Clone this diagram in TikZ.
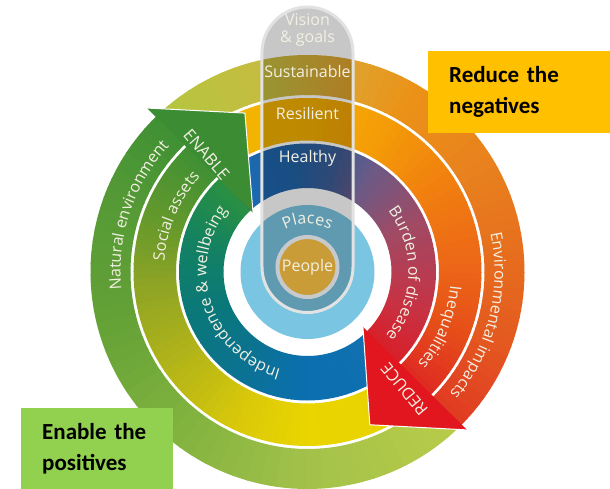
\documentclass[tikz,border=0pt]{standalone}
\usepackage{fontspec}
\setmainfont{Open Sans}
\newfontfamily\boxfont{Carlito}
\usetikzlibrary{decorations.text}

% outer band
\definecolor{oA}{HTML}{E03A22}
\definecolor{oB}{HTML}{E45820}
\definecolor{oC}{HTML}{E66A1E}
\definecolor{oD}{HTML}{E8801E}
\definecolor{oE}{HTML}{EC9218}
\definecolor{oF}{HTML}{DCA632}
\definecolor{oG}{HTML}{C8BC40}
\definecolor{oH}{HTML}{B4C640}
\definecolor{oI}{HTML}{3F9034}
\definecolor{oJ}{HTML}{559A36}
\definecolor{oK}{HTML}{62A036}
\definecolor{oL}{HTML}{80B23E}
\definecolor{oM}{HTML}{A3C14A}
\definecolor{oN}{HTML}{B8CC48}
% middle band
\definecolor{mA}{HTML}{DE2A22}
\definecolor{mB}{HTML}{E65018}
\definecolor{mC}{HTML}{EC6418}
\definecolor{mD}{HTML}{F07C10}
\definecolor{mE}{HTML}{F49A08}
\definecolor{mF}{HTML}{F4B000}
\definecolor{mG}{HTML}{F0B800}
\definecolor{mH}{HTML}{3F9034}
\definecolor{mI}{HTML}{62982C}
\definecolor{mJ}{HTML}{8EA425}
\definecolor{mK}{HTML}{B2B418}
\definecolor{mL}{HTML}{D8C80A}
\definecolor{mM}{HTML}{EBD500}
\definecolor{mN}{HTML}{E6D000}
% inner band
\definecolor{iA}{HTML}{D8202A}
\definecolor{iB}{HTML}{C43446}
\definecolor{iC}{HTML}{A04A64}
\definecolor{iD}{HTML}{6A5A86}
\definecolor{iE}{HTML}{3A5E98}
\definecolor{iF}{HTML}{2064A8}
\definecolor{iG}{HTML}{1A6AB4}
\definecolor{iH}{HTML}{2A9040}
\definecolor{iI}{HTML}{148262}
\definecolor{iJ}{HTML}{0A7878}
\definecolor{iK}{HTML}{0B7290}
\definecolor{iL}{HTML}{0B6FB0}
\definecolor{iM}{HTML}{1270B0}
% the rest
\definecolor{discblue}{HTML}{7AC6E2}
\definecolor{headgreen}{HTML}{3C8C34}
\definecolor{headred}{HTML}{E2161E}
\definecolor{ringtxt}{HTML}{F2F0E2}
\definecolor{pillline}{HTML}{E2E2E2}
\definecolor{peoplegold}{HTML}{C99C38}
\definecolor{peopleline}{HTML}{C6CACD}
\definecolor{negfill}{HTML}{FFC000}
\definecolor{posfill}{HTML}{92D050}

\newcommand{\ringfont}{\fontsize{16}{19}\selectfont}

% one stretch of a band: r in, r out, angle from, angle to, colour from, colour to
\newcommand{\ringpart}[6]{%
  \foreach \k in {0,...,9}{%
    \pgfmathsetmacro{\angA}{(#3)+((#4)-(#3))*\k/10-0.3}%
    \pgfmathsetmacro{\angB}{(#3)+((#4)-(#3))*(\k+1)/10}%
    \pgfmathsetmacro{\mixp}{10*\k+5}%
    \fill[fill={#6!\mixp!#5}] (\angA:#1) arc[start angle=\angA, end angle=\angB, radius=#1]
      -- (\angB:#2) arc[start angle=\angB, end angle=\angA, radius=#2] -- cycle;
  }}
\newcommand{\ring}[3]{%
  \foreach \aone/\cone/\atwo/\ctwo in {#3}{\ringpart{#1}{#2}{\aone}{\atwo}{\cone}{\ctwo}}}

\begin{document}
\begin{tikzpicture}[x=1pt, y=1pt,
  pilltext/.style={text=ringtxt, font=\ringfont},
  headtext/.style={text=ringtxt, font=\fontsize{16.5}{19}\selectfont},
  notebox/.style={anchor=north west, align=left, inner xsep=21pt,
    font=\boxfont\bfseries\fontsize{23}{31}\selectfont},
  arctext/.style={decorate, decoration={text along path, text={|\ringfont|#1},
    text align=center, text color=ringtxt}}]
\useasboundingbox (-307.5,-217) rectangle (302.5,272);

% Rings
\ring{177}{217}{-45/oA/-20/oB, -20/oB/0/oC, 0/oC/30/oD, 30/oD/60/oE, 60/oE/82/oF, 82/oF/100/oG, 100/oG/133.5/oH, 133.5/oI/160/oJ, 160/oJ/190/oK, 190/oK/230/oL, 230/oL/270/oM, 270/oM/315/oN}
\ring{131.5}{174}{-45/mA/-20/mB, -20/mB/0/mC, 0/mC/30/mD, 30/mD/60/mE, 60/mE/90/mF, 90/mF/133.5/mG, 133.5/mH/160/mI, 160/mI/185/mJ, 185/mJ/215/mK, 215/mK/245/mL, 245/mL/270/mM, 270/mM/315/mN}
\ring{84}{128.5}{-45/iA/-15/iB, -15/iB/25/iC, 25/iC/58/iD, 58/iD/78/iE, 78/iE/100/iF, 100/iF/133.5/iG, 133.5/iH/165/iI, 165/iI/200/iJ, 200/iJ/235/iK, 235/iK/270/iL, 270/iL/315/iM}
\fill[discblue] (0,0) circle[radius=67];

% Arrow heads
\fill[headgreen] (134.4:229.5) -- (111.5:170.8) -- (132.7:80.3) -- cycle;
\draw[white, line width=1pt] (134.4:229.5) -- (111.5:170.8) -- (132.7:80.3);
\fill[headred] (-44.7:224.5) -- (-67.8:165) -- (-44.7:78) -- cycle;
\draw[white, line width=1pt] (-44.7:224.5) -- (-67.8:165) -- (-44.7:78);
\node[headtext, rotate=-49.4] (enable) at (130.6:155) {ENABLE};
\node[headtext, rotate=129.5] (reduce) at (-50.5:152) {REDUCE};

% Band labels
\path[arctext=Natural environment] (231.5:187) arc[start angle=231.5, end angle=91.5, radius=187];
\path[arctext=Social assets] (227:143.5) arc[start angle=227, end angle=87, radius=143.5];
\path[arctext=Independence {\&} wellbeing] (288.6:101) arc[start angle=288.6, end angle=108.6, radius=101];
\path[arctext=Environmental impacts] (55.7:187) arc[start angle=55.7, end angle=-84.3, radius=187];
\path[arctext=Inequalities] (47.4:143.5) arc[start angle=47.4, end angle=-92.6, radius=143.5];
\path[arctext=Burden of disease] (78.9:101) arc[start angle=78.9, end angle=-81.1, radius=101];

% Pill
\path[fill=black, fill opacity=.22, draw=pillline, line width=3pt]
  (-45.5,5) -- (-45.5,219.5) arc[start angle=180, end angle=0, radius=45.5]
  -- (45.5,5) arc[start angle=0, end angle=-180, radius=45.5] -- cycle;
\node[pilltext, align=center, font=\fontsize{16}{17}\selectfont] (vision) at (0,241.5) {Vision\\\& goals};
\node[pilltext] (sustainable) at (0,200) {Sustainable};
\node[pilltext] (resilient) at (0,158) {Resilient};
\node[pilltext] (healthy) at (0,114) {Healthy};
\path[arctext=Places] (150:48) arc[start angle=150, end angle=30, radius=48];
\node[circle, fill=peoplegold, draw=peopleline, line width=4pt, minimum size=60pt,
  inner sep=0pt, pilltext] (people) at (0,5) {People};

% Notes
\node[notebox, fill=negfill, text width=140pt, minimum height=82pt] (negbox) at (120.5,221) {Reduce the\\negatives};
\node[notebox, fill=posfill, text width=110pt, minimum height=81pt] (posbox) at (-286.5,-136) {Enable the\\positives};

\end{tikzpicture}
\end{document}
